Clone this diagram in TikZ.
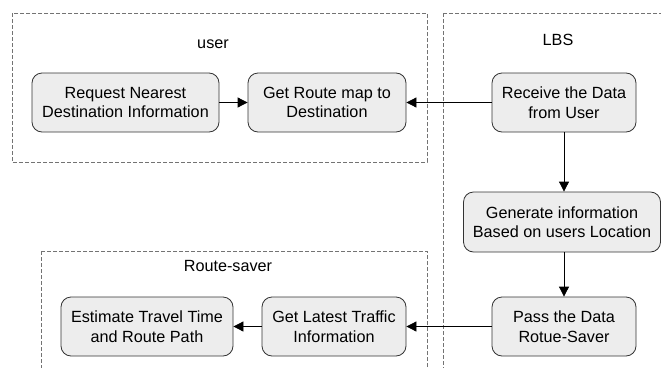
\documentclass[tikz,border=0pt]{standalone}
\usepackage{fontspec}
\setmainfont{Liberation Sans}
\usetikzlibrary{arrows.meta}
\begin{document}
\begin{tikzpicture}[x=1pt,y=-1pt,
  font=\fontsize{16.2}{19.5}\selectfont,
  frame/.style={draw=black!55, line width=0.8pt, dash pattern=on 4pt off 2pt},
  stepbox/.style={draw=black!80, fill=black!7, line width=0.8pt, rounded corners=10pt,
    align=center, inner sep=0pt},
  flow/.style={draw=black, line width=0.8pt, -{Triangle[length=10pt,width=10pt]}},
  grouplabel/.style={inner sep=0pt}]
\useasboundingbox (0,0) rectangle (661,367);
\clip (0,0) rectangle (661,367);
\fill[white] (0,0) rectangle (661,367);

% group frames
\draw[frame] (12,13) rectangle (427,162);
\draw[frame] (443,13) rectangle (675,380);
\draw[frame] (41,251) rectangle (427,380);

\node[grouplabel] (luser) at (213,44) {user};
\node[grouplabel] (llbs) at (558,40) {LBS};
\node[grouplabel] (lroute) at (228,266) {Route-saver};

% steps
\node[stepbox, minimum width=187pt, minimum height=59pt] (req) at (125.5,102.5) {Request Nearest\\Destination Information};
\node[stepbox, minimum width=158pt, minimum height=59pt] (getroute) at (327,102.5) {Get Route map to\\Destination};
\node[stepbox, minimum width=144pt, minimum height=59pt] (recv) at (564,102.5) {Receive the Data\\from User};
\node[stepbox, minimum width=197pt, minimum height=60pt] (gen) at (562,222) {Generate information\\Based on users Location};
\node[stepbox, minimum width=144pt, minimum height=59pt] (pass) at (564,326.5) {Pass the Data\\Rotue-Saver};
\node[stepbox, minimum width=144pt, minimum height=59pt] (latest) at (334,326.5) {Get Latest Traffic\\Information};
\node[stepbox, minimum width=172pt, minimum height=59pt] (est) at (147,326.5) {Estimate Travel Time\\and Route Path};

% connectors
\draw[flow] (req.east) -- (getroute.west);
\draw[flow] (recv.west) -- (getroute.east);
\draw[flow] (recv.south) -- (gen.north -| recv.south);
\draw[flow] (gen.south -| pass.north) -- (pass.north);
\draw[flow] (pass.west) -- (latest.east);
\draw[flow] (latest.west) -- (est.east);
\end{tikzpicture}
\end{document}
